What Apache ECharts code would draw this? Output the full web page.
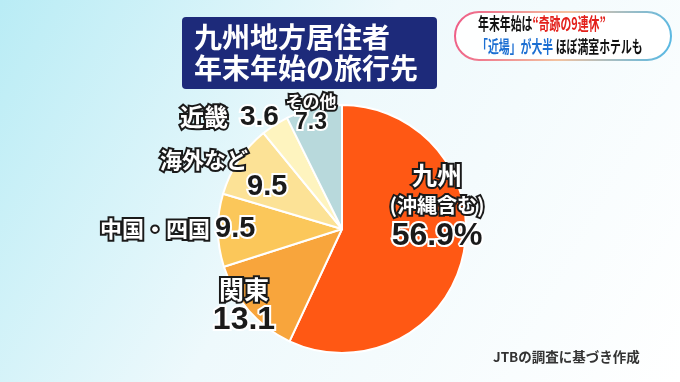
<!DOCTYPE html>
<html>
<head>
<meta charset="utf-8">
<script src="https://cdn.jsdelivr.net/npm/echarts@6/dist/echarts.min.js"></script>
<style>html,body{margin:0;padding:0;}#c{width:680px;height:382px;}</style>
</head>
<body>
<div id="c"></div>
<script>
const categories = ['九州', '関東', '中国・四国', '海外など', '近畿', 'その他'];
const values = [56.9, 13.1, 9.5, 9.5, 3.6, 7.3];
const subNotes = ['(沖縄含む)', '', '', '', '', ''];
const sliceColors = ['#FF5814', '#F8A53C', '#FBC75A', '#FCE296', '#FEF4BF', '#B8D9DC'];

// label anchor per slice: [x, y, align]
const labelPos = [[437, 206, 'center'], [244, 305, 'center'], [100, 229, 'left'], [160, 173, 'left'], [180, 117, 'left'], [311, 113, 'center']];

const nameBase = {color: '#fff', textBorderColor: '#1a1a1a', textBorderWidth: 4, fontFamily: 'Noto Sans CJK JP', fontWeight: 'bold'};
const valBase = {color: '#1a1a1a', textBorderColor: '#fff', textBorderWidth: 4, fontFamily: 'Liberation Sans', fontWeight: 'bold'};

function fmt(p) {
  const i = p.dataIndex, n = p.name, v = p.value;
  switch (i) {
    case 0: return '{n25|' + n + '}\n{s20|' + subNotes[0] + '}\n{v32|' + v + '%}';
    case 1: return '{n25|' + n + '}\n{v32b|' + v + '}';
    case 2: return '{n22|' + n + '}{v29a|' + v + '}';
    case 3: return '{n22b|' + n + '}\n{v29b|' + v + '}';
    case 4: return '{n24|' + n + '}{v28|' + v + '}';
    default: return '{s17|' + n + '}\n{v23|' + v + '}';
  }
}

const chart = echarts.init(document.getElementById('c'));
chart.setOption({
  backgroundColor: {type: 'linear', x: 0, y: 0, x2: 1, y2: 1, colorStops: [
    {offset: 0, color: '#b9ecf5'}, {offset: 0.45, color: '#eef9fc'}, {offset: 1, color: '#ffffff'}]},
  title: {
    text: '九州地方居住者\n年末年始の旅行先',
    left: 182, top: 17,
    backgroundColor: '#1d2a7a',
    borderRadius: 4,
    padding: [5, 19, 5, 12],
    textStyle: {color: '#fff', fontSize: 28, lineHeight: 31, fontFamily: 'Noto Sans CJK JP', fontWeight: 'bold'}
  },
  graphic: [
    {type: 'rect', shape: {x: 455, y: 12, width: 216, height: 48, r: 24},
      style: {fill: 'rgba(255,255,255,0.92)', lineWidth: 2,
        stroke: {type: 'linear', x: 0, y: 0, x2: 1, y2: 1, colorStops: [
          {offset: 0, color: '#ee5a86'}, {offset: 0.5, color: '#f3c2a0'}, {offset: 1, color: '#52b8e6'}]}}},
    {type: 'text', x: 478, y: 24, scaleX: 0.64,
      style: {x: 0, y: 0, text: '{a|年末年始は}{r|“奇跡の9連休”}', verticalAlign: 'middle',
        rich: {a: {fill: '#111', fontSize: 17, fontWeight: 'bold', fontFamily: 'Noto Sans CJK JP'},
               r: {fill: '#e3201b', fontSize: 17, fontWeight: 'bold', fontFamily: 'Noto Sans CJK JP'}}}},
    {type: 'text', x: 477, y: 47, scaleX: 0.64,
      style: {x: 0, y: 0, text: '{b|「近場」が大半}{a| ほぼ満室ホテルも}', verticalAlign: 'middle',
        rich: {a: {fill: '#111', fontSize: 17, fontWeight: 'bold', fontFamily: 'Noto Sans CJK JP'},
               b: {fill: '#1c6fd2', fontSize: 17, fontWeight: 'bold', fontFamily: 'Noto Sans CJK JP'}}}},
    {type: 'text', x: 493, y: 357,
      style: {text: 'JTBの調査に基づき作成', fill: '#333', fontSize: 13.5, fontWeight: 'bold', fontFamily: 'Noto Sans CJK JP', verticalAlign: 'middle'}}
  ],
  series: [{
    type: 'pie',
    center: [342, 229],
    radius: 124,
    startAngle: 90,
    clockwise: true,
    avoidLabelOverlap: false,
    animation: false,
    itemStyle: {borderColor: '#fff', borderWidth: 2},
    labelLine: {show: false},
    label: {
      show: true,
      position: 'outside',
      formatter: fmt,
      rich: {
        n25: Object.assign({fontSize: 25, lineHeight: 30}, nameBase),
        n24: Object.assign({fontSize: 24, lineHeight: 28}, nameBase),
        n22: Object.assign({fontSize: 22, lineHeight: 28}, nameBase),
        n22b: Object.assign({fontSize: 22, lineHeight: 28}, nameBase),
        s20: Object.assign({fontSize: 20, lineHeight: 30}, nameBase),
        s17: Object.assign({fontSize: 17, lineHeight: 20}, nameBase),
        v32: Object.assign({fontSize: 32, lineHeight: 32}, valBase),
        v32b: Object.assign({fontSize: 32, lineHeight: 32}, valBase),
        v29a: Object.assign({fontSize: 29, lineHeight: 28, padding: [0, 0, 0, 5]}, valBase),
        v29b: Object.assign({fontSize: 29, lineHeight: 26, padding: [0, 0, 0, 87]}, valBase),
        v28: Object.assign({fontSize: 28, lineHeight: 28, padding: [0, 0, 0, 12]}, valBase),
        v23: Object.assign({fontSize: 23, lineHeight: 22}, valBase)
      }
    },
    labelLayout: function (p) {
      const q = labelPos[p.dataIndex];
      return {x: q[0], y: q[1], align: q[2], verticalAlign: 'middle'};
    },
    data: categories.map((c, i) => ({name: c, value: values[i], itemStyle: {color: sliceColors[i]}}))
  }]
});
</script>
</body>
</html>
